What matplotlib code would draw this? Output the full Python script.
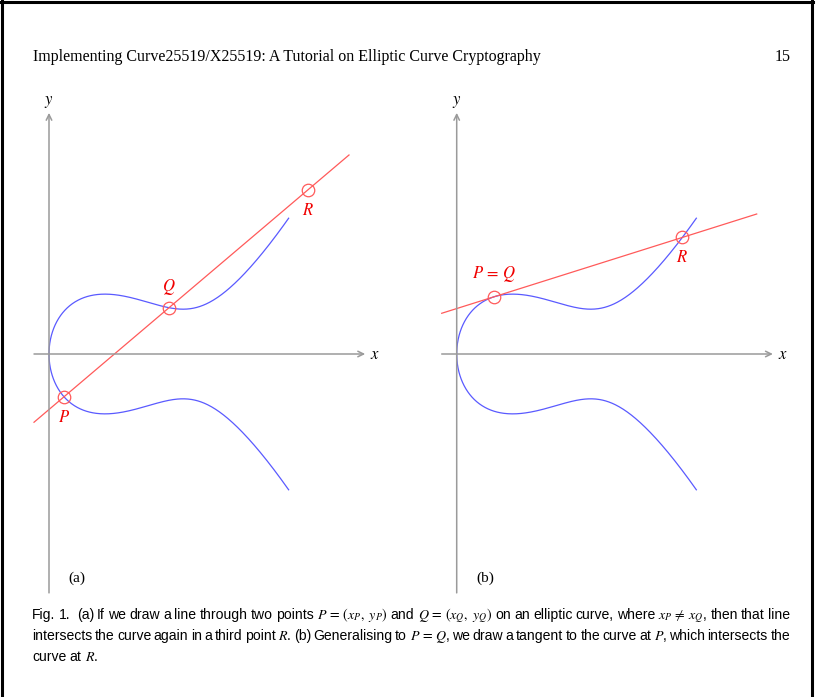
import numpy as np
import matplotlib
matplotlib.use('Agg')
import matplotlib.pyplot as plt
from matplotlib.lines import Line2D

# ---------------- data ----------------
# Elliptic curve  y^2 = x^3 + A x^2 + B x
CURVE_A = -4.75
CURVE_B = 6.25
CURVE_X_END = 4.0
LINE_X_RANGE = [-0.25, 5.0]
X_AXIS_RANGE = [-0.25, 5.27]
Y_AXIS_RANGE = [-6.32, 6.38]
PANEL_A_XP = 0.25    # P (lower branch)
PANEL_A_XQ = 2.0     # Q (upper branch)
PANEL_B_XP = 0.62    # P = Q (upper branch)
panel_labels = ['(a)', '(b)']
header_title = 'Implementing Curve25519/X25519: A Tutorial on Elliptic Curve Cryptography'
page_number = '15'
caption_line1 = ['Fig.', '1.', '', '(a)', 'If', 'we', 'draw', 'a', 'line', 'through', 'two', 'points',
                 r'$P\,=\,(x_P,\ y_P)$', 'and', r'$Q\,=\,(x_Q,\ y_Q)$', 'on', 'an', 'elliptic',
                 'curve,', 'where', r'$x_P\,\neq\,x_Q$,', 'then', 'that', 'line']
caption_line2 = ['intersects', 'the', 'curve', 'again', 'in', 'a', 'third', 'point', r'$R$.',
                 '(b)', 'Generalising', 'to', r'$P\,=\,Q$,', 'we', 'draw', 'a', 'tangent', 'to',
                 'the', 'curve', 'at', r'$P$,', 'which', 'intersects', 'the']
caption_line3 = ['curve', 'at', r'$R$.']

# ---------------- style / layout ----------------
W, H = 819, 697
PXX, PXY = 60.0, 37.8
BLUE = '#5a5aff'
RED_LINE = '#ff5a5a'
RED_TXT = '#f00000'
GRAY = '#9a9a9a'

plt.rcParams['mathtext.fontset'] = 'stix'
fig = plt.figure(figsize=(W / 100, H / 100), dpi=100)
fig.patch.set_facecolor('white')


def f(x):
    return x ** 3 + CURVE_A * x ** 2 + CURVE_B * x


def fprime(x):
    return 3 * x ** 2 + 2 * CURVE_A * x + CURVE_B


def make_axes(origin, left, right, top, bottom):
    ox, oy = origin
    ax = fig.add_axes([left / W, (H - bottom) / H, (right - left) / W, (bottom - top) / H])
    ax.set_xlim((left - ox) / PXX, (right - ox) / PXX)
    ax.set_ylim((oy - bottom) / PXY, (oy - top) / PXY)
    ax.axis('off')
    return ax


def draw_axes(ax):
    ap = dict(arrowstyle='->,head_length=0.45,head_width=0.22', color=GRAY, lw=1.1,
              shrinkA=0, shrinkB=0, mutation_scale=9)
    ax.annotate('', xy=(X_AXIS_RANGE[1], 0), xytext=(X_AXIS_RANGE[0], 0), arrowprops=ap)
    ax.annotate('', xy=(0, Y_AXIS_RANGE[1]), xytext=(0, Y_AXIS_RANGE[0]), arrowprops=ap)
    ax.annotate(r'$x$', xy=(X_AXIS_RANGE[1], 0), xytext=(10, 0), textcoords='offset pixels',
                ha='center', va='center', fontsize=12)
    ax.annotate(r'$y$', xy=(0, Y_AXIS_RANGE[1]), xytext=(0, 12), textcoords='offset pixels',
                ha='center', va='center', fontsize=12)


def draw_curve(ax):
    t = np.linspace(0, 1, 600)
    xs = CURVE_X_END * t ** 2
    ys = np.sqrt(np.clip(f(xs), 0, None))
    x_all = np.concatenate([xs[::-1], xs[1:]])
    y_all = np.concatenate([-ys[::-1], ys[1:]])
    ax.plot(x_all, y_all, color=BLUE, lw=0.9, solid_capstyle='butt', clip_on=False)


def mark(ax, x, y, label, dy):
    ax.plot([x], [y], 'o', ms=9, mfc='none', mec=RED_LINE, mew=0.9, clip_on=False)
    ax.annotate(label, xy=(x, y), xytext=(0, dy), textcoords='offset pixels',
                ha='center', va='center', fontsize=12, color=RED_TXT)


# ---- panel (a) ----
axa = make_axes((49, 354), 15, 405, 85, 605)
draw_axes(axa)
draw_curve(axa)
xp, xq = PANEL_A_XP, PANEL_A_XQ
yp, yq = -np.sqrt(f(xp)), np.sqrt(f(xq))
m = (yq - yp) / (xq - xp)
xr = m ** 2 - CURVE_A - xp - xq
yr = yp + m * (xr - xp)
lx = np.array(LINE_X_RANGE)
axa.plot(lx, yp + m * (lx - xp), color=RED_LINE, lw=0.9, clip_on=False)
mark(axa, xp, yp, r'$P$', -20)
mark(axa, xq, yq, r'$Q$', 21)
mark(axa, xr, yr, r'$R$', -20)

# ---- panel (b) ----
axb = make_axes((456.7, 354), 422, 812, 85, 605)
draw_axes(axb)
draw_curve(axb)
xp = PANEL_B_XP
yp = np.sqrt(f(xp))
m = fprime(xp) / (2 * yp)
xr = m ** 2 - CURVE_A - 2 * xp
yr = yp + m * (xr - xp)
axb.plot(lx, yp + m * (lx - xp), color=RED_LINE, lw=0.9, clip_on=False)
mark(axb, xp, yp, r'$P\,=\,Q$', 23)
mark(axb, xr, yr, r'$R$', -20)

# panel labels
fig.text(77 / W, 1 - 578 / H, panel_labels[0], ha='center', va='center', fontsize=11,
         family='Liberation Serif')
fig.text(485 / W, 1 - 578 / H, panel_labels[1], ha='center', va='center', fontsize=11,
         family='Liberation Serif')

# header
fig.text(33 / W, 1 - 57 / H, header_title, ha='left', va='center', fontsize=11.5,
         family='Liberation Serif')
fig.text(791 / W, 1 - 57 / H, page_number, ha='right', va='center', fontsize=11.5,
         family='Liberation Serif')

# caption (justified)
cap_family = ['Liberation Sans Narrow', 'Liberation Sans']
cap_size = 10.1
renderer = fig.canvas.get_renderer()


def caption_line(tokens, y_base, justify=True, x0=32, x1=790):
    texts = [fig.text(0, 1 - y_base / H, tkn, ha='left', va='baseline', fontsize=cap_size,
                      family=cap_family) for tkn in tokens]
    widths = [tx.get_window_extent(renderer).width if tx.get_text() else 0 for tx in texts]
    n = len(tokens)
    gap = (x1 - x0 - sum(widths)) / (n - 1) if justify else 3.2
    x = x0
    for tx, w in zip(texts, widths):
        tx.set_x(x / W)
        x += w + gap


caption_line(caption_line1, 619)
caption_line(caption_line2, 640)
caption_line(caption_line3, 661, justify=False)

# page frame
for (xa, ya, xb, yb) in [(0, 2, 813, 2), (2, 0, 2, H), (812, 0, 812, H)]:
    fig.add_artist(Line2D([xa / W, xb / W], [1 - ya / H, 1 - yb / H], color='black', lw=2.2,
                          transform=fig.transFigure))

fig.savefig('out.png', dpi=100)
